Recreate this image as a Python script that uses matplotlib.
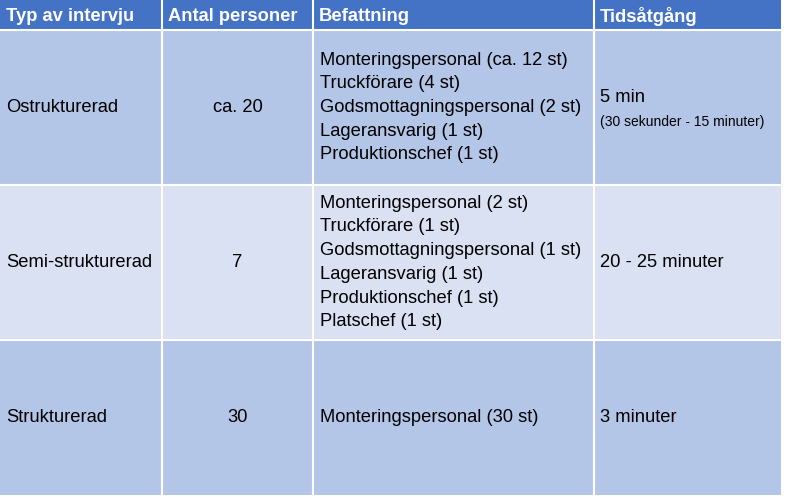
import matplotlib
matplotlib.use("Agg")
import matplotlib.pyplot as plt
from matplotlib.patches import Rectangle

# Tabellens innehåll
rubriker = ["Typ av intervju", "Antal personer", "Befattning", "Tidsåtgång"]
typer = ["Ostrukturerad", "Semi-strukturerad", "Strukturerad"]
antal = ["ca. 20", "7", "30"]
befattning = [
    ["Monteringspersonal (ca. 12 st)", "Truckförare (4 st)", "Godsmottagningspersonal (2 st)",
     "Lageransvarig (1 st)", "Produktionschef (1 st)"],
    ["Monteringspersonal (2 st)", "Truckförare (1 st)", "Godsmottagningspersonal (1 st)",
     "Lageransvarig (1 st)", "Produktionschef (1 st)", "Platschef (1 st)"],
    ["Monteringspersonal (30 st)"],
]
tid = ["5 min", "20 - 25 minuter", "3 minuter"]
tid_not = ["(30 sekunder - 15 minuter)", "", ""]

plt.rcParams["font.family"] = "Liberation Sans"
FS = 13.2
fig = plt.figure(figsize=(7.86, 4.98), dpi=100)
ax = fig.add_axes([0, 0, 1, 1])
ax.set_xlim(0, 786)
ax.set_ylim(498, 0)
ax.axis("off")

kol = [0, 162, 313, 594, 781]
rad = [0, 30, 185, 340, 495]
fargrad = ["#B4C6E7", "#D9E1F2", "#B4C6E7"]

# rubrikrad
ax.add_patch(Rectangle((0, 0), kol[-1], rad[1], color="#4472C4", lw=0))
for i, r in enumerate(rubriker):
    ax.text(kol[i] + 6, 16, r, color="white", fontweight="bold", fontsize=FS, va="center")

for j in range(3):
    y0, y1 = rad[j + 1], rad[j + 2]
    ym = (y0 + y1) / 2
    ax.add_patch(Rectangle((0, y0), kol[-1], y1 - y0, color=fargrad[j], lw=0))
    ax.text(kol[0] + 6, ym, typer[j], fontsize=FS, va="center")
    ax.text((kol[1] + kol[2]) / 2, ym, antal[j], fontsize=FS, va="center", ha="center")
    n = len(befattning[j])
    for k, b in enumerate(befattning[j]):
        ax.text(kol[2] + 7, ym + (k - (n - 1) / 2) * 23.7, b, fontsize=FS, va="center")
    if tid_not[j]:
        ax.text(kol[3] + 6, ym - 10, tid[j], fontsize=FS, va="center")
        ax.text(kol[3] + 6, ym + 14, tid_not[j], fontsize=10, va="center")
    else:
        ax.text(kol[3] + 6, ym, tid[j], fontsize=FS, va="center")

# vita rutnätslinjer
for x in kol[1:-1]:
    ax.plot([x, x], [0, rad[-1]], color="white", lw=1.5)
for y in rad[1:-1]:
    ax.plot([0, kol[-1]], [y, y], color="white", lw=1.5)

fig.savefig("out.png", dpi=100)
